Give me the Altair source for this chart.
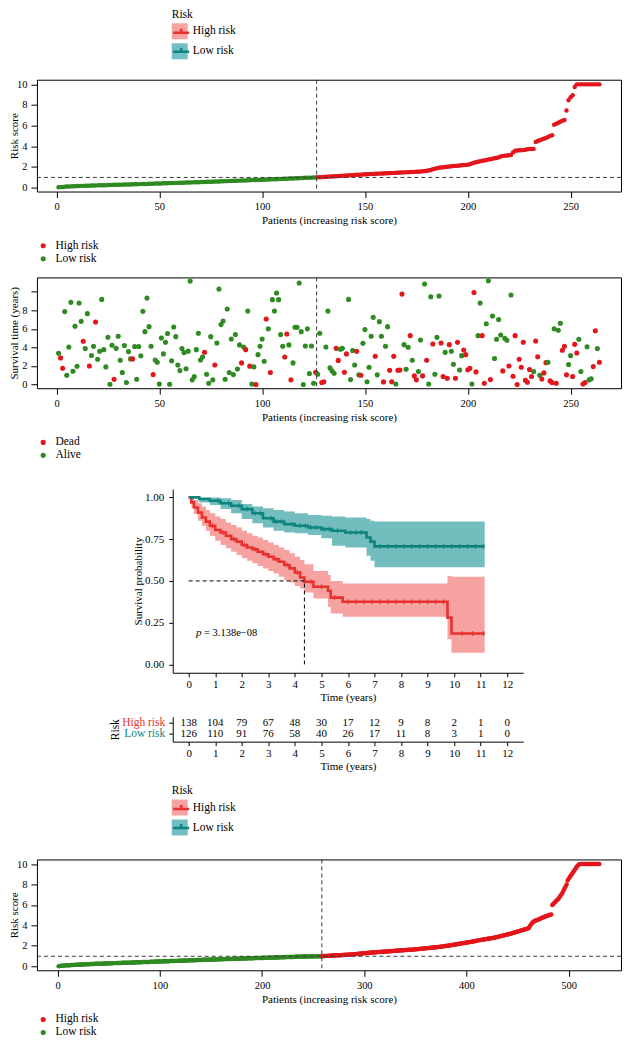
import altair as alt
import pandas as pd

FONT = "Liberation Serif"
RED = "#E3161B"
GREEN = "#2F8A22"
KM_RED = "#E8312E"
KM_TEAL = "#0E847E"
TEAL_BAND = "#00868A"
KM_RED_LIGHT = "#F5A3A1"
KM_TEAL_LIGHT = "#73BEC0"
DASH = "#3A3A3A"

GROUPS = ["High risk", "Low risk"]
STATUS = ["Dead", "Alive"]

# ---------------- panel 1: risk score (264 patients) ----------------
risk1_low = [
    0.01, 0.03, 0.05, 0.07, 0.08, 0.09, 0.10, 0.11, 0.12, 0.13,
    0.14, 0.15, 0.15, 0.16, 0.17, 0.17, 0.18, 0.19, 0.19, 0.20,
    0.21, 0.21, 0.22, 0.22, 0.23, 0.24, 0.24, 0.25, 0.25, 0.26,
    0.26, 0.27, 0.28, 0.28, 0.29, 0.29, 0.30, 0.31, 0.31, 0.32,
    0.32, 0.33, 0.34, 0.34, 0.35, 0.36, 0.36, 0.37, 0.38, 0.38,
    0.39, 0.40, 0.40, 0.41, 0.42, 0.42, 0.43, 0.44, 0.44, 0.45,
    0.46, 0.46, 0.47, 0.48, 0.48, 0.49, 0.50, 0.50, 0.51, 0.52,
    0.53, 0.53, 0.54, 0.55, 0.55, 0.56, 0.57, 0.58, 0.58, 0.59,
    0.60, 0.61, 0.61, 0.62, 0.63, 0.64, 0.64, 0.65, 0.66, 0.67,
    0.67, 0.68, 0.69, 0.70, 0.71, 0.71, 0.72, 0.73, 0.74, 0.75,
    0.75, 0.76, 0.77, 0.78, 0.79, 0.80, 0.80, 0.81, 0.82, 0.83,
    0.84, 0.85, 0.86, 0.86, 0.87, 0.88, 0.89, 0.90, 0.91, 0.92,
    0.93, 0.93, 0.94, 0.95, 0.96, 0.97]
risk1_high = [
    0.98, 0.99, 1.00, 1.02, 1.03, 1.04, 1.05, 1.07, 1.08, 1.09,
    1.10, 1.12, 1.13, 1.14, 1.15, 1.17, 1.18, 1.19, 1.20, 1.22,
    1.23, 1.24, 1.25, 1.27, 1.28, 1.29, 1.30, 1.31, 1.32, 1.33,
    1.34, 1.35, 1.36, 1.37, 1.38, 1.39, 1.40, 1.41, 1.42, 1.43,
    1.44, 1.45, 1.46, 1.47, 1.48, 1.49, 1.50, 1.51, 1.52, 1.53,
    1.54, 1.56, 1.58, 1.61, 1.65, 1.70, 1.76, 1.82, 1.86, 1.90,
    1.93, 1.96, 1.99, 2.01, 2.03, 2.05, 2.07, 2.09, 2.11, 2.13,
    2.16, 2.17, 2.18, 2.20, 2.25, 2.32, 2.40, 2.45, 2.50, 2.54,
    2.58, 2.62, 2.66, 2.70, 2.74, 2.78, 2.82, 2.86, 2.92, 3.00,
    3.05, 3.08, 3.10, 3.12, 3.15, 3.40, 3.55, 3.58, 3.60, 3.61,
    3.62, 3.66, 3.70, 3.72, 3.73, 3.74, 4.40, 4.50, 4.58, 4.65,
    4.72, 4.80, 4.90, 5.00, 5.06, 6.08, 6.18, 6.28, 6.38, 6.48,
    6.55, 7.47, 8.45, 8.75, 8.95, 9.74, 10.0, 10.0, 10.0, 10.0,
    10.0, 10.0, 10.0, 10.0, 10.0, 10.0, 10.0, 10.0]
cutoff1 = 0.97
split1 = 126.5

# ---------------- panel 2: survival time / status ----------------
surv_time = [
    3.37, 2.87, 1.75, 7.86, 1.0, 4.05, 8.86, 1.43, 6.28, 1.97,
    8.79, 6.81, 4.66, 3.87, 7.64, 2.0, 3.12, 4.12, 6.74, 2.72,
    3.58, 9.18, 3.76, 1.9, 5.09, 0.03, 4.23, 0.57, 3.9, 5.2,
    2.62, 1.29, 4.2, 0.21, 3.55, 2.76, 2.76, 4.1, 0.57, 4.1,
    3.1, 7.89, 5.7, 9.32, 6.24, 4.12, 1.07, 2.63, 2.4, 0.06,
    5.02, 3.3, 4.55, 5.5, 0.03, 2.55, 6.2, 5.16, 2.1, 1.5,
    3.87, 3.44, 1.7, 3.6, 11.15, 0.5, 0.85, 3.76, 5.52, 2.65,
    2.97, 3.48, 1.1, 0.14, 5.16, 0.5, 2.1, 4.48, 10.29, 6.46,
    6.85, 0.57, 8.14, 1.29, 4.9, 1.07, 5.38, 1.68, 4.27, 2.33,
    4.05, 3.76, 7.92, 1.98, 0.06, 1.9, 0.0, 3.22, 4.12, 4.9,
    2.5, 7.06, 6.0, 1.29, 9.15, 7.92, 9.86, 9.15, 5.38, 4.12,
    2.96, 5.45, 4.27, 0.5, 2.33, 6.17, 6.17, 10.94, 5.7, 0.0,
    4.16, 6.0, 1.18, 4.16, 0.14, 1.33, 1.1, 5.52, 0.21, 0.3,
    4.05, 7.92, 1.79, 1.47, 1.22, 3.9, 2.6, 3.8, 3.9, 1.33,
    3.3, 9.18, 0.53, 3.66, 2.11, 3.58, 1.04, 1.0, 4.45, 5.92,
    0.3, 1.86, 5.2, 7.24, 3.04, 1.04, 6.78, 5.2, 0.28, 4.12,
    6.24, 1.54, 0.3, 3.04, 0.06, 1.54, 1.57, 9.75, 4.3, 1.65,
    4.02, 5.27, 2.61, 0.93, 0.5, 1.4, 4.8, 0.93, 10.83, 2.61,
    0.06, 9.47, 4.37, 1.11, 5.09, 9.54, 4.48, 0.86, 3.47, 0.68,
    4.3, 3.58, 2.18, 0.68, 4.55, 1.57, 3.11, 3.73, 3.22, 1.6,
    1.75, 0.06, 9.93, 1.36, 5.27, 8.79, 5.27, 0.14, 6.55, 11.19,
    0.53, 7.39, 2.8, 4.88, 7.0, 5.34, 1.47, 4.98, 4.77, 2.0,
    9.65, 0.89, 5.27, 0.0, 2.72, 1.86, 4.55, 0.46, 0.25, 1.61,
    0.86, 1.4, 4.7, 3.0, 1.0, 0.6, 1.25, 2.36, 2.4, 0.39,
    0.21, 6.0, 0.14, 5.85, 6.6, 3.69, 4.12, 1.04, 2.15, 3.11,
    0.86, 4.33, 3.4, 4.88, 1.4, 0.06, 0.21, 4.08, 0.5, 0.61,
    1.93, 5.8, 3.87, 2.4]
# D = dead, A = alive (one letter per patient)
surv_status = (
    "ADDAAAAAAA" "AADAADAADA" "AAAAAAADAA" "AAAAAADAAA" "AAAAAADAAA"
    "AAAAAAAAAA" "AAAAAAAAAA" "ADAAAADAAA" "AAAAAAAAAD" "ADADAADAAA"
    "ADADAAAAAA" "DDADAAAAAA" "AAAAADAADD" "AAAAADDAAD" "DAAAADADAA"
    "AAAADAAADA" "ADDDADDDAA" "ADADDAADAD" "AADAAADDAD" "DAADDAADDD"
    "DADDAADDAA" "DAAAAADAAD" "ADDDDDDDDD" "DADDADDDAD" "DADAADDDAA"
    "DDDAADDAAA" "DDAD")

# ---------------- panel 3: Kaplan-Meier ----------------
km_high_t = [0, 0.1, 0.2, 0.35, 0.5, 0.65, 0.8, 1.0, 1.2, 1.4, 1.6, 1.8, 2.0, 2.2, 2.4, 2.6,
             2.8, 3.0, 3.2, 3.4, 3.6, 3.8, 4.0, 4.2, 4.36, 4.7, 5.25, 5.35, 5.8, 9.75, 9.9, 11.15]
km_high_s = [1.0, 0.97, 0.94, 0.91, 0.88, 0.855, 0.83, 0.805, 0.79, 0.77, 0.75, 0.735, 0.715, 0.70,
             0.69, 0.675, 0.66, 0.645, 0.63, 0.615, 0.595, 0.575, 0.55, 0.52, 0.495, 0.465, 0.44,
             0.40, 0.375, 0.28, 0.185, 0.185]
km_high_lo = [1.0, 0.94, 0.90, 0.86, 0.83, 0.80, 0.77, 0.74, 0.715, 0.695, 0.675, 0.655, 0.635, 0.62,
              0.605, 0.59, 0.575, 0.56, 0.545, 0.525, 0.505, 0.49, 0.47, 0.455, 0.43, 0.395, 0.345,
              0.305, 0.285, 0.15, 0.07, 0.07]
km_high_hi = [1.0, 1.0, 0.985, 0.965, 0.945, 0.925, 0.905, 0.885, 0.87, 0.85, 0.835, 0.82, 0.80,
              0.785, 0.77, 0.76, 0.745, 0.73, 0.715, 0.70, 0.685, 0.665, 0.645, 0.625, 0.60, 0.56,
              0.535, 0.50, 0.485, 0.53, 0.525, 0.525]
km_low_t = [0, 0.4, 0.8, 1.2, 1.6, 2.0, 2.4, 2.8, 3.2, 3.6, 4.0, 4.5, 5.0, 5.4, 5.9, 6.7, 6.85, 7.0, 11.15]
km_low_s = [1.0, 0.99, 0.98, 0.965, 0.95, 0.93, 0.905, 0.875, 0.855, 0.84, 0.83, 0.82, 0.81, 0.80,
            0.79, 0.76, 0.735, 0.707, 0.707]
km_low_lo = [1.0, 0.97, 0.955, 0.93, 0.905, 0.87, 0.845, 0.82, 0.80, 0.79, 0.785, 0.775, 0.755, 0.71,
             0.70, 0.65, 0.62, 0.582, 0.582]
km_low_hi = [1.0, 1.0, 1.0, 0.995, 0.985, 0.96, 0.945, 0.935, 0.925, 0.915, 0.905, 0.895, 0.89, 0.885,
             0.88, 0.87, 0.86, 0.855, 0.855]
censor_high = [0.9, 1.3, 1.7, 2.1, 2.5, 2.9, 3.3, 3.7, 4.1, 4.6, 5.0, 5.5, 6.0, 6.3, 6.6, 6.9, 7.2,
               7.5, 7.8, 8.1, 8.4, 8.7, 9.0, 9.3, 9.6, 10.3, 10.7, 11.1]
censor_low = [1.1, 1.5, 1.9, 2.2, 2.5, 2.7, 3.1, 3.3, 3.5, 3.9, 4.2, 4.4, 4.6, 4.8, 5.1, 5.3, 5.6,
              6.1, 6.3, 6.5, 7.2, 7.5, 7.8, 8.1, 8.4, 8.7, 9.0, 9.3, 9.6, 9.9, 10.2, 10.5, 10.8, 11.1]
median_time = 4.36
p_label_pos = (0.28, 0.187)
p_value_text = "= 3.138e\u221208"

# ---------------- panel 4: numbers at risk ----------------
table_times = [0, 1, 2, 3, 4, 5, 6, 7, 8, 9, 10, 11, 12]
n_high = [138, 104, 79, 67, 48, 30, 17, 12, 9, 8, 2, 1, 0]
n_low = [126, 110, 91, 76, 58, 40, 26, 17, 11, 8, 3, 1, 0]

# ---------------- panel 5: risk score (530 patients) ----------------
risk5_low = [
    0.00, 0.02, 0.03, 0.04, 0.05, 0.06, 0.07, 0.08, 0.08, 0.09,
    0.10, 0.10, 0.11, 0.12, 0.12, 0.13, 0.13, 0.14, 0.14, 0.15,
    0.15, 0.16, 0.16, 0.17, 0.17, 0.18, 0.18, 0.19, 0.19, 0.20,
    0.20, 0.21, 0.21, 0.21, 0.22, 0.22, 0.23, 0.23, 0.23, 0.24,
    0.24, 0.25, 0.25, 0.25, 0.26, 0.26, 0.27, 0.27, 0.27, 0.28,
    0.28, 0.28, 0.29, 0.29, 0.30, 0.30, 0.30, 0.31, 0.31, 0.31,
    0.32, 0.32, 0.33, 0.33, 0.33, 0.34, 0.34, 0.34, 0.35, 0.35,
    0.35, 0.36, 0.36, 0.37, 0.37, 0.37, 0.38, 0.38, 0.38, 0.39,
    0.39, 0.39, 0.40, 0.40, 0.41, 0.41, 0.41, 0.42, 0.42, 0.42,
    0.43, 0.43, 0.43, 0.44, 0.44, 0.45, 0.45, 0.45, 0.46, 0.46,
    0.46, 0.47, 0.47, 0.48, 0.48, 0.48, 0.49, 0.49, 0.49, 0.50,
    0.50, 0.51, 0.51, 0.51, 0.52, 0.52, 0.52, 0.53, 0.53, 0.54,
    0.54, 0.54, 0.55, 0.55, 0.55, 0.56, 0.56, 0.57, 0.57, 0.57,
    0.58, 0.58, 0.58, 0.59, 0.59, 0.60, 0.60, 0.60, 0.61, 0.61,
    0.61, 0.62, 0.62, 0.62, 0.63, 0.63, 0.64, 0.64, 0.64, 0.65,
    0.65, 0.65, 0.66, 0.66, 0.66, 0.67, 0.67, 0.67, 0.68, 0.68,
    0.68, 0.69, 0.69, 0.69, 0.70, 0.70, 0.70, 0.71, 0.71, 0.71,
    0.72, 0.72, 0.72, 0.73, 0.73, 0.73, 0.74, 0.74, 0.74, 0.75,
    0.75, 0.75, 0.76, 0.76, 0.76, 0.77, 0.77, 0.77, 0.77, 0.78,
    0.78, 0.78, 0.79, 0.79, 0.79, 0.80, 0.80, 0.80, 0.81, 0.81,
    0.81, 0.82, 0.82, 0.82, 0.83, 0.83, 0.83, 0.84, 0.84, 0.84,
    0.85, 0.85, 0.85, 0.86, 0.86, 0.86, 0.87, 0.87, 0.87, 0.88,
    0.88, 0.88, 0.89, 0.89, 0.89, 0.90, 0.90, 0.90, 0.91, 0.91,
    0.91, 0.92, 0.92, 0.92, 0.93, 0.93, 0.93, 0.93, 0.94, 0.94,
    0.94, 0.94, 0.95, 0.95, 0.95, 0.95, 0.96, 0.96, 0.96, 0.96,
    0.96, 0.97, 0.97, 0.97, 0.97, 0.97, 0.98, 0.98]
risk5_high = [
    0.98, 0.99, 1.00, 1.00, 1.01, 1.01, 1.02, 1.02, 1.03, 1.03,
    1.04, 1.04, 1.05, 1.05, 1.06, 1.07, 1.07, 1.08, 1.08, 1.09,
    1.09, 1.10, 1.11, 1.11, 1.12, 1.13, 1.13, 1.14, 1.15, 1.15,
    1.16, 1.17, 1.18, 1.19, 1.20, 1.21, 1.22, 1.23, 1.24, 1.25,
    1.26, 1.27, 1.28, 1.29, 1.30, 1.31, 1.31, 1.32, 1.33, 1.34,
    1.35, 1.35, 1.36, 1.37, 1.38, 1.38, 1.39, 1.40, 1.41, 1.41,
    1.42, 1.43, 1.44, 1.44, 1.45, 1.46, 1.47, 1.47, 1.48, 1.49,
    1.50, 1.51, 1.52, 1.52, 1.53, 1.54, 1.54, 1.55, 1.56, 1.56,
    1.57, 1.58, 1.58, 1.59, 1.60, 1.60, 1.61, 1.62, 1.62, 1.63,
    1.64, 1.65, 1.66, 1.67, 1.68, 1.69, 1.70, 1.71, 1.72, 1.73,
    1.74, 1.75, 1.76, 1.77, 1.78, 1.79, 1.80, 1.81, 1.82, 1.83,
    1.84, 1.85, 1.86, 1.87, 1.89, 1.90, 1.91, 1.93, 1.94, 1.95,
    1.97, 1.98, 2.00, 2.01, 2.03, 2.04, 2.06, 2.07, 2.09, 2.10,
    2.12, 2.14, 2.15, 2.17, 2.19, 2.20, 2.22, 2.24, 2.26, 2.27,
    2.29, 2.31, 2.33, 2.34, 2.36, 2.38, 2.40, 2.42, 2.44, 2.45,
    2.47, 2.49, 2.51, 2.53, 2.55, 2.56, 2.58, 2.60, 2.62, 2.64,
    2.65, 2.67, 2.69, 2.71, 2.72, 2.74, 2.76, 2.77, 2.79, 2.81,
    2.83, 2.85, 2.88, 2.90, 2.92, 2.95, 2.97, 3.00, 3.02, 3.05,
    3.08, 3.10, 3.13, 3.16, 3.18, 3.21, 3.24, 3.27, 3.30, 3.33,
    3.36, 3.39, 3.42, 3.45, 3.48, 3.51, 3.54, 3.57, 3.60, 3.63,
    3.66, 3.70, 3.75, 3.90, 4.05, 4.20, 4.30, 4.38, 4.44, 4.48,
    4.52, 4.56, 4.60, 4.65, 4.70, 4.74, 4.78, 4.82, 4.86, 4.90,
    4.94, 4.97, 5.00, 5.03, 5.06, 6.00, 6.10, 6.20, 6.30, 6.40,
    6.50, 6.60, 6.75, 6.90, 7.05, 7.20, 7.40, 7.60, 7.80, 8.00,
    8.40, 8.55, 8.70, 8.85, 9.00, 9.15, 9.30, 9.45, 9.60, 9.75,
    9.85, 9.95, 10.0, 10.0, 10.0, 10.0, 10.0, 10.0, 10.0, 10.0,
    10.0, 10.0, 10.0, 10.0, 10.0, 10.0, 10.0, 10.0, 10.0, 10.0,
    10.0, 10.0]
cutoff5 = 0.97
split5 = 258.5

assert len(risk1_low) == 126 and len(risk1_high) == 138
assert len(surv_time) == 264 and len(surv_status) == 264
assert len(risk5_low) == 258 and len(risk5_high) == 272

# ---------------- layout (pixels) ----------------
W_R = 585
H_R1, H_R2, H_R5 = 112, 111, 111
KM_SHIFT = 136
KM_W, KM_H, TAB_H = 351, 184, 25
KM_FULL = KM_SHIFT + KM_W


def spacer(w, h):
    return alt.Chart(pd.DataFrame({"z": [0]})).mark_point(size=1, opacity=0).encode(
        x=alt.value(1), y=alt.value(1)).properties(width=w, height=h)


def r_xaxis(values):
    return alt.Axis(values=values, title="Patients (increasing risk score)", grid=False, domain=False,
                    tickSize=6, labelPadding=4, labelFontSize=10.5, titleFontSize=11, titlePadding=3,
                    labelAngle=0, labelFlush=False, labelOverlap=False)


def r_yaxis(values, title, h, label_expr=None):
    kw = dict(values=values, title=title, grid=False, domain=False, tickSize=6, labelPadding=4,
              labelFontSize=10.5, titleFontSize=11, titleAngle=270, titleX=-17, titleY=h / 2,
              titleBaseline="bottom", titleAlign="center", labelFlush=False, labelOverlap=False)
    if label_expr:
        kw["labelExpr"] = label_expr
    return alt.Axis(**kw)


def r_legend(y):
    return alt.Legend(title=None, orient="none", legendX=0.5, legendY=y, direction="vertical",
                      symbolType="circle", symbolSize=26, symbolStrokeWidth=0, symbolOpacity=1,
                      labelFontSize=11.5, labelOffset=6.5, rowPadding=0, padding=0)


def gg_legend(ly, w, h):
    d = pd.DataFrame({"risk": GROUPS, "risk_line": [g + " " for g in GROUPS]})
    common = dict(orient="none", legendX=135, legendY=ly, direction="vertical",
                  symbolSize=256, symbolOpacity=1, labelFontSize=11.5, titleFontSize=11.5,
                  titleFontWeight="normal", titlePadding=3, rowPadding=4, labelOffset=5, padding=0)
    fill_layer = alt.Chart(d).mark_point(filled=True, opacity=0, size=1).encode(
        x=alt.value(1), y=alt.value(1),
        fill=alt.Fill("risk:N", scale=alt.Scale(domain=GROUPS, range=[KM_RED_LIGHT, KM_TEAL_LIGHT]),
                      legend=alt.Legend(title="Risk", symbolType="square", symbolStrokeWidth=0,
                                        **common)))
    line_layer = alt.Chart(d).mark_point(filled=False, opacity=0, size=1).encode(
        x=alt.value(1), y=alt.value(1),
        stroke=alt.Stroke("risk_line:N",
                          scale=alt.Scale(domain=[g + " " for g in GROUPS], range=[KM_RED, KM_TEAL]),
                          legend=alt.Legend(title=" ", symbolType="M-1,0H1M0,0V-0.5",
                                            symbolStrokeWidth=2.6, symbolFillColor="transparent",
                                            labelExpr="''", **common)))
    return alt.layer(fill_layer, line_layer).properties(width=w, height=h)


def risk_panel(low, high, xdom, xticks, cutoff, split, h, legend_y):
    n_low, n_high = len(low), len(high)
    df = pd.DataFrame({
        "patient": list(range(1, n_low + n_high + 1)),
        "score": low + high,
        "risk": ["Low risk"] * n_low + ["High risk"] * n_high,
    })
    xs = alt.Scale(domain=xdom, nice=False, zero=False)
    ys = alt.Scale(domain=[-0.4, 10.45], nice=False, zero=False)
    xa = r_xaxis(xticks)
    ya = r_yaxis([0, 2, 4, 6, 8, 10], "Risk score", h)
    pts = alt.Chart(df).mark_circle(size=20, opacity=1).encode(
        x=alt.X("patient:Q", scale=xs, axis=xa),
        y=alt.Y("score:Q", scale=ys, axis=ya),
        color=alt.Color("risk:N", scale=alt.Scale(domain=GROUPS, range=[RED, GREEN]),
                        legend=r_legend(legend_y)))
    hline = alt.Chart(pd.DataFrame({"score": [cutoff]})).mark_rule(
        strokeDash=[4, 3], color=DASH, strokeWidth=1).encode(y=alt.Y("score:Q", scale=ys, axis=ya))
    vline = alt.Chart(pd.DataFrame({"patient": [split]})).mark_rule(
        strokeDash=[4, 3], color=DASH, strokeWidth=1).encode(x=alt.X("patient:Q", scale=xs, axis=xa))
    return alt.layer(pts, hline, vline).properties(
        width=W_R, height=h, view=alt.ViewBackground(stroke="black", strokeWidth=1))


# ---- panel 1
p1 = risk_panel(risk1_low, risk1_high, [-9.5, 274.5], [0, 50, 100, 150, 200, 250],
                cutoff1, split1, H_R1, 160.5)

# ---- panel 2
df2 = pd.DataFrame({
    "patient": list(range(1, 265)),
    "time": surv_time,
    "status": ["Dead" if c == "D" else "Alive" for c in surv_status],
})
xs2 = alt.Scale(domain=[-9.5, 274.5], nice=False, zero=False)
ys2 = alt.Scale(domain=[-0.4, 11.55], nice=False, zero=False)
xa2 = r_xaxis([0, 50, 100, 150, 200, 250])
pts2 = alt.Chart(df2).mark_circle(size=26, opacity=1).encode(
    x=alt.X("patient:Q", scale=xs2, axis=xa2),
    y=alt.Y("time:Q", scale=ys2,
            axis=r_yaxis([0, 2, 4, 6, 8, 10], "Survival time (years)", H_R2,
                         "datum.value == 10 ? '' : datum.label")),
    color=alt.Color("status:N", scale=alt.Scale(domain=STATUS, range=[RED, GREEN]),
                    legend=r_legend(159.5)))
vline2 = alt.Chart(pd.DataFrame({"patient": [split1]})).mark_rule(
    strokeDash=[4, 3], color=DASH, strokeWidth=1).encode(x=alt.X("patient:Q", scale=xs2, axis=xa2))
p2 = alt.layer(pts2, vline2).properties(width=W_R, height=H_R2,
                                        view=alt.ViewBackground(stroke="black", strokeWidth=1))

# ---- panel 3: KM (plot area shifted right inside a wider view)
km_xs = alt.Scale(domain=[-0.6, 12.6], range=[KM_SHIFT, KM_FULL], nice=False, zero=False)
km_ys = alt.Scale(domain=[-0.05, 1.05], nice=False, zero=False)
km_xaxis = alt.Axis(values=table_times, title="Time (years)", grid=False, domain=True, tickSize=4,
                    labelPadding=2, titlePadding=2, labelFontSize=11, titleFontSize=11,
                    labelFlush=False, labelOverlap=False)
km_yaxis = alt.Axis(values=[0, 0.25, 0.5, 0.75, 1.0], format=".2f", title="Survival probability",
                    grid=False, domain=True, tickSize=4, labelPadding=5, labelFontSize=11,
                    titleFontSize=11, titleAngle=270, titleX=-29.5, titleY=KM_H / 2,
                    titleBaseline="bottom", titleAlign="center", labelFlush=False, labelOverlap=False,
                    offset=-KM_SHIFT)


def KX(f):
    return alt.X(f, scale=km_xs, axis=km_xaxis)


def KY(f):
    return alt.Y(f, scale=km_ys, axis=km_yaxis)


groups_km = [
    ("High risk", km_high_t, km_high_s, km_high_lo, km_high_hi, censor_high, KM_RED, KM_RED, 0.45),
    ("Low risk", km_low_t, km_low_s, km_low_lo, km_low_hi, censor_low, KM_TEAL, TEAL_BAND, 0.55),
]
band_layers, line_layers, tick_layers = [], [], []
for name, t, s, lo, hi, cens, lc, fc, fo in groups_km:
    dfk = pd.DataFrame({"time": t, "surv": s, "lo": lo, "hi": hi})
    band_layers.append(alt.Chart(dfk).mark_area(interpolate="step-after", color=fc, fillOpacity=fo)
                       .encode(x=KX("time:Q"), y=KY("lo:Q"), y2="hi:Q"))
    line_layers.append(alt.Chart(dfk).mark_line(interpolate="step-after", color=lc, strokeWidth=2.6)
                       .encode(x=KX("time:Q"), y=KY("surv:Q")))
    dfc = pd.merge_asof(pd.DataFrame({"time": cens}), dfk[["time", "surv"]], on="time")
    tick_layers.append(alt.Chart(dfc).mark_tick(orient="vertical", color=lc, size=5, thickness=1,
                                                opacity=1)
                       .encode(x=KX("time:Q"), y=KY("surv:Q")))

med = pd.DataFrame({"time": [0.0], "t1": [median_time], "s0": [0.0], "surv": [0.5]})
med_h = alt.Chart(med).mark_rule(strokeDash=[4, 3], color="black", strokeWidth=1).encode(
    x=KX("time:Q"), x2="t1:Q", y=KY("surv:Q"))
med_v = alt.Chart(med).mark_rule(strokeDash=[4, 3], color="black", strokeWidth=1).encode(
    x=KX("t1:Q"), y=KY("s0:Q"), y2="surv:Q")
ptxt = pd.DataFrame({"time": [p_label_pos[0]], "surv": [p_label_pos[1]], "a": ["p"], "b": [p_value_text]})
p_a = alt.Chart(ptxt).mark_text(align="left", baseline="middle", fontStyle="italic", fontSize=11,
                                font=FONT).encode(x=KX("time:Q"), y=KY("surv:Q"), text="a:N")
p_b = alt.Chart(ptxt).mark_text(align="left", baseline="middle", fontSize=10.5, font=FONT, dx=8).encode(
    x=KX("time:Q"), y=KY("surv:Q"), text="b:N")
km = alt.layer(*band_layers, *line_layers, *tick_layers, med_h, med_v, p_a, p_b).properties(
    width=KM_FULL, height=KM_H)

# ---- panel 4: risk table
df_tab = pd.DataFrame({
    "time": table_times + table_times,
    "row": [2] * len(table_times) + [1] * len(table_times),
    "n": n_high + n_low,
})
tab = alt.Chart(df_tab).mark_text(fontSize=11, font=FONT, color="black").encode(
    x=alt.X("time:Q", scale=km_xs,
            axis=alt.Axis(values=table_times, title="Time (years)", grid=False, domain=True, tickSize=4,
                          labelPadding=2, titlePadding=2, labelFontSize=11, titleFontSize=11,
                          labelFlush=False, labelOverlap=False)),
    y=alt.Y("row:Q", scale=alt.Scale(domain=[0.27, 2.55], nice=False, zero=False),
            axis=alt.Axis(values=[1, 2], labelExpr="datum.value == 2 ? 'High risk' : 'Low risk'",
                          labelColor={"condition": {"test": "datum.value == 2", "value": KM_RED},
                                      "value": KM_TEAL},
                          title="Risk", grid=False, domain=True, tickSize=4, labelPadding=4,
                          labelFontSize=11.5, titleFontSize=11.5, titleAngle=270, titleX=-52,
                          titleY=TAB_H / 2, titleBaseline="bottom", titleAlign="center",
                          labelOverlap=False, labelFlush=False, offset=-KM_SHIFT)),
    text="n:Q").properties(width=KM_FULL, height=TAB_H)

# ---- panel 5
p5 = risk_panel(risk5_low, risk5_high, [-20.2, 551.2], [0, 100, 200, 300, 400, 500],
                cutoff5, split5, H_R5, 154.5)

chart = alt.vconcat(
    gg_legend(0, 1, 71),
    p1,
    spacer(1, 86),
    p2,
    spacer(1, 101),
    km,
    spacer(1, 44),
    tab,
    gg_legend(43.5, 1, 118),
    p5,
    spacing=0,
    bounds="flush",
).resolve_scale(
    color="independent", fill="independent", stroke="independent"
).resolve_legend(
    color="independent", fill="independent", stroke="independent"
).properties(padding=0).configure(font=FONT).configure_view(stroke=None).configure_axis(
    labelFont=FONT, titleFont=FONT, labelColor="black", titleColor="black", tickColor="black",
    domainColor="black", titleFontWeight="normal", grid=False
).configure_legend(labelFont=FONT, titleFont=FONT, labelColor="black", titleColor="black")

chart.save("out.html", embed_options={"renderer": "svg", "actions": False})
